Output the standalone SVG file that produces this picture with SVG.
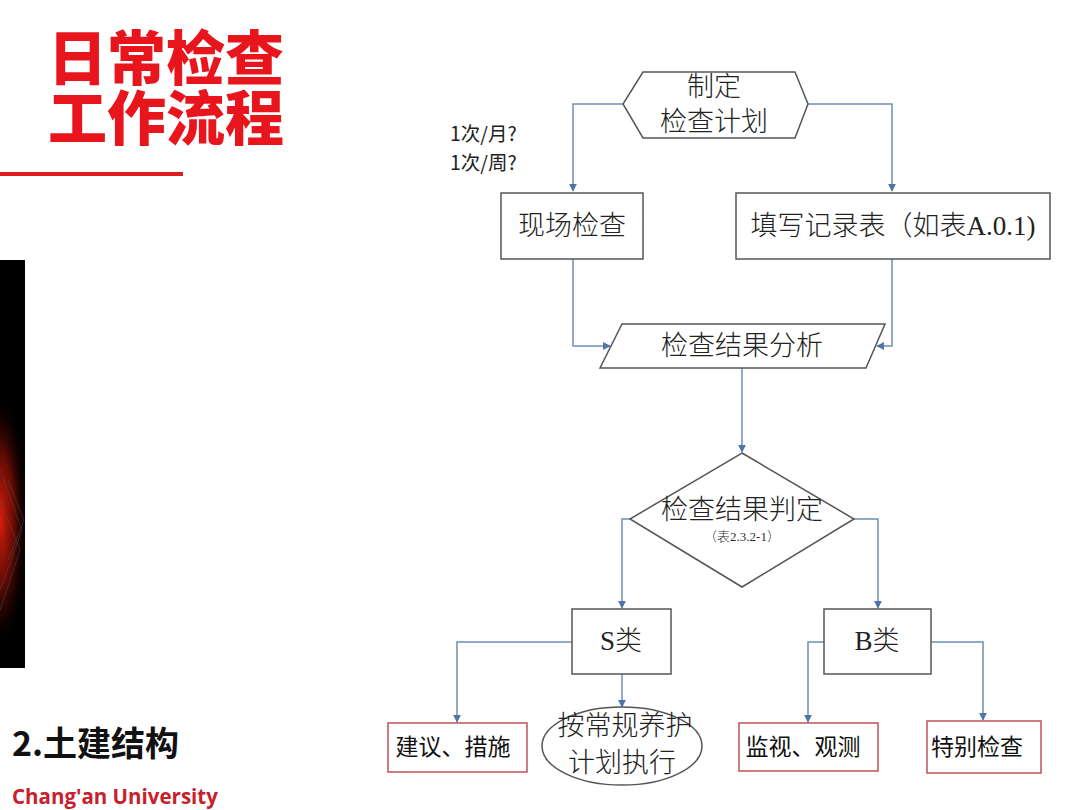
<svg xmlns="http://www.w3.org/2000/svg" width="1080" height="810" viewBox="0 0 1080 810">
<defs>
<style>
.title{font-family:"Noto Sans CJK SC","Noto Sans",sans-serif;font-weight:900;font-size:59px;fill:#e8161c}
.shape{fill:#fff;stroke:#555;stroke-width:1.5}
.rbox{fill:#fff;stroke:#c0505a;stroke-width:1.5}
.t{font-family:"Liberation Serif","Noto Sans CJK SC",serif;font-weight:300;font-size:27px;fill:#222;text-anchor:middle}
.ts{font-family:"Liberation Serif","Noto Sans CJK SC",serif;font-weight:300;font-size:13px;fill:#333;text-anchor:middle}
.tb{font-family:"Noto Sans CJK SC","Noto Sans",sans-serif;font-size:23px;fill:#111;text-anchor:middle}
.lab{font-family:"Noto Sans CJK SC","Noto Sans",sans-serif;font-size:19.5px;fill:#222}
.conn{fill:none;stroke:#6f8fb8;stroke-width:1.5}
</style>
<marker id="arr" viewBox="0 0 10 10" refX="9" refY="5" markerWidth="8" markerHeight="8" markerUnits="userSpaceOnUse" orient="auto">
<path d="M0,0 L10,5 L0,10 z" fill="#4f74a8"/>
</marker>
<radialGradient id="glow" cx="0" cy="520" r="130" gradientUnits="userSpaceOnUse" gradientTransform="translate(0,520) scale(0.22,1) translate(0,-520)">
<stop offset="0" stop-color="#e8200c" stop-opacity="0.95"/>
<stop offset="0.5" stop-color="#901006" stop-opacity="0.7"/>
<stop offset="1" stop-color="#000" stop-opacity="0"/>
</radialGradient>
</defs>
<rect width="1080" height="810" fill="#fff"/>
<g id="title">
<text class="title"><tspan x="48" y="80">日常检查</tspan><tspan x="48" y="140">工作流程</tspan></text>
<rect x="0" y="172" width="183" height="4" fill="#e01c1c"/>
</g>
<g id="strip">
<rect x="0" y="260" width="25" height="408" fill="#000"/>
<rect x="0" y="380" width="25" height="280" fill="url(#glow)"/>
<path d="M0,470 L22,530 L0,590 M0,500 L20,550 L0,610 M8,480 L24,520 L8,560" fill="none" stroke="#555" stroke-width="0.6" opacity="0.7"/>
</g>
<g id="connectors">
<path class="conn" d="M623,104 H573 V191" marker-end="url(#arr)"/>
<path class="conn" d="M808,104 H892 V191" marker-end="url(#arr)"/>
<path class="conn" d="M573,259 V346 H610" marker-end="url(#arr)"/>
<path class="conn" d="M892,259 V346 H877" marker-end="url(#arr)"/>
<path class="conn" d="M742,368 V452" marker-end="url(#arr)"/>
<path class="conn" d="M630,519 H622 V608" marker-end="url(#arr)"/>
<path class="conn" d="M854,519 H878 V608" marker-end="url(#arr)"/>
<path class="conn" d="M572,642 H457 V722" marker-end="url(#arr)"/>
<path class="conn" d="M622,674 V707" marker-end="url(#arr)"/>
<path class="conn" d="M824,642 H808 V722" marker-end="url(#arr)"/>
<path class="conn" d="M931,642 H983 V720" marker-end="url(#arr)"/>
</g>
<g id="plan">
<polygon class="shape" points="643,72 795,72 808,104 795,138 643,138 623,104"/>
<text class="t" x="714" y="96">制定</text>
<text class="t" x="714" y="131">检查计划</text>
</g>
<g id="freq">
<text class="lab" x="450" y="141">1次/月?</text>
<text class="lab" x="450" y="170">1次/周?</text>
</g>
<g id="site">
<rect class="shape" x="501" y="193" width="142" height="66"/>
<text class="t" x="572" y="235">现场检查</text>
</g>
<g id="record">
<rect class="shape" x="736" y="193" width="314" height="66"/>
<text class="t" x="893" y="235" font-size="28">填写记录表（如表A.0.1)</text>
</g>
<g id="analysis">
<polygon class="shape" points="622,324 885,324 866,368 600,368"/>
<text class="t" x="742" y="355">检查结果分析</text>
</g>
<g id="judge">
<polygon class="shape" points="742,453 854,519 742,587 630,519"/>
<text class="t" x="742" y="519">检查结果判定</text>
<text class="ts" x="742" y="541">（表2.3.2-1）</text>
</g>
<g id="s">
<rect class="shape" x="572" y="609" width="99" height="65"/>
<text class="t" x="621" y="650">S类</text>
</g>
<g id="b">
<rect class="shape" x="824" y="609" width="107" height="65"/>
<text class="t" x="877" y="650">B类</text>
</g>
<g id="advice">
<rect class="rbox" x="388" y="723" width="139" height="49"/>
<text class="tb" x="453" y="755">建议、措施</text>
</g>
<g id="routine">
<ellipse class="shape" cx="622" cy="746" rx="80" ry="39"/>
<text class="t" x="625" y="735" font-size="28">按常规养护</text>
<text class="t" x="622" y="772" font-size="28">计划执行</text>
</g>
<g id="monitor">
<rect class="rbox" x="739" y="723" width="139" height="48"/>
<text class="tb" x="803" y="755">监视、观测</text>
</g>
<g id="special">
<rect class="rbox" x="927" y="721" width="114" height="52"/>
<text class="tb" x="977" y="755">特别检查</text>
</g>
<g id="footer">
<text x="12" y="756" font-family="'Noto Sans CJK SC','Noto Sans',sans-serif" font-weight="700" font-size="34" fill="#111">2.土建结构</text>
<text x="12" y="804" font-family="'Open Sans','Noto Sans',sans-serif" font-weight="700" font-size="20.5" fill="#c8202c">Chang'an University</text>
</g>
</svg>
